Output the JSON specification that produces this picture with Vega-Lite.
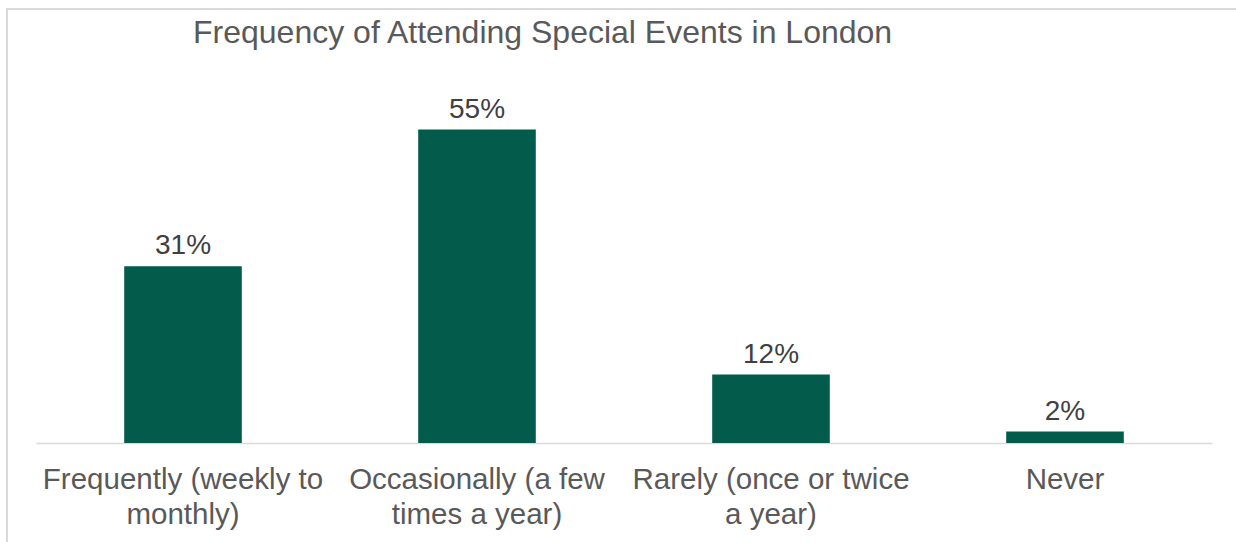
{
  "$schema": "https://vega.github.io/schema/vega-lite/v6.json",
  "width": 1240,
  "height": 540,
  "autosize": "none",
  "padding": {"left": 7, "top": 9, "right": 0, "bottom": 0},
  "background": "white",
  "title": {
    "text": "Frequency of Attending Special Events in London",
    "orient": "none",
    "anchor": "start",
    "frame": "group",
    "dx": 186,
    "dy": 34,
    "offset": 0,
    "baseline": "alphabetic",
    "fontSize": 32,
    "fontWeight": "normal",
    "font": "Liberation Sans",
    "color": "#595959"
  },
  "data": {
    "values": [
      {"category": "Frequently (weekly to|monthly)", "value": 31, "label": "31%"},
      {"category": "Occasionally (a few|times a year)", "value": 55, "label": "55%"},
      {"category": "Rarely (once or twice|a year)", "value": 12, "label": "12%"},
      {"category": "Never", "value": 2, "label": "2%"}
    ]
  },
  "encoding": {
    "x": {
      "field": "category",
      "type": "nominal",
      "sort": null,
      "scale": {"range": [29, 1205], "paddingInner": 0.6, "paddingOuter": 0.3},
      "axis": {
        "title": null,
        "orient": "bottom",
        "offset": -106,
        "labelAngle": 0,
        "labelExpr": "split(datum.value, '|')",
        "labelFont": "Liberation Sans",
        "labelFontSize": 29.5,
        "labelColor": "#595959",
        "labelLineHeight": 35,
        "labelPadding": 22,
        "labelLimit": 0,
        "ticks": false,
        "tickSize": 0,
        "domainColor": "#d9d9d9",
        "domainWidth": 1.5,
        "grid": false
      }
    },
    "y": {
      "field": "value",
      "type": "quantitative",
      "scale": {"domain": [0, 60], "range": [434, 92], "nice": false},
      "axis": null
    }
  },
  "layer": [
    {"mark": {"type": "bar", "color": "#035c4b"}},
    {
      "mark": {
        "type": "text",
        "dy": -12,
        "baseline": "alphabetic",
        "fontSize": 28,
        "font": "Liberation Sans",
        "color": "#404040"
      },
      "encoding": {"text": {"field": "label"}}
    }
  ],
  "config": {"view": {"stroke": "#d9d9d9", "strokeWidth": 2}}
}
